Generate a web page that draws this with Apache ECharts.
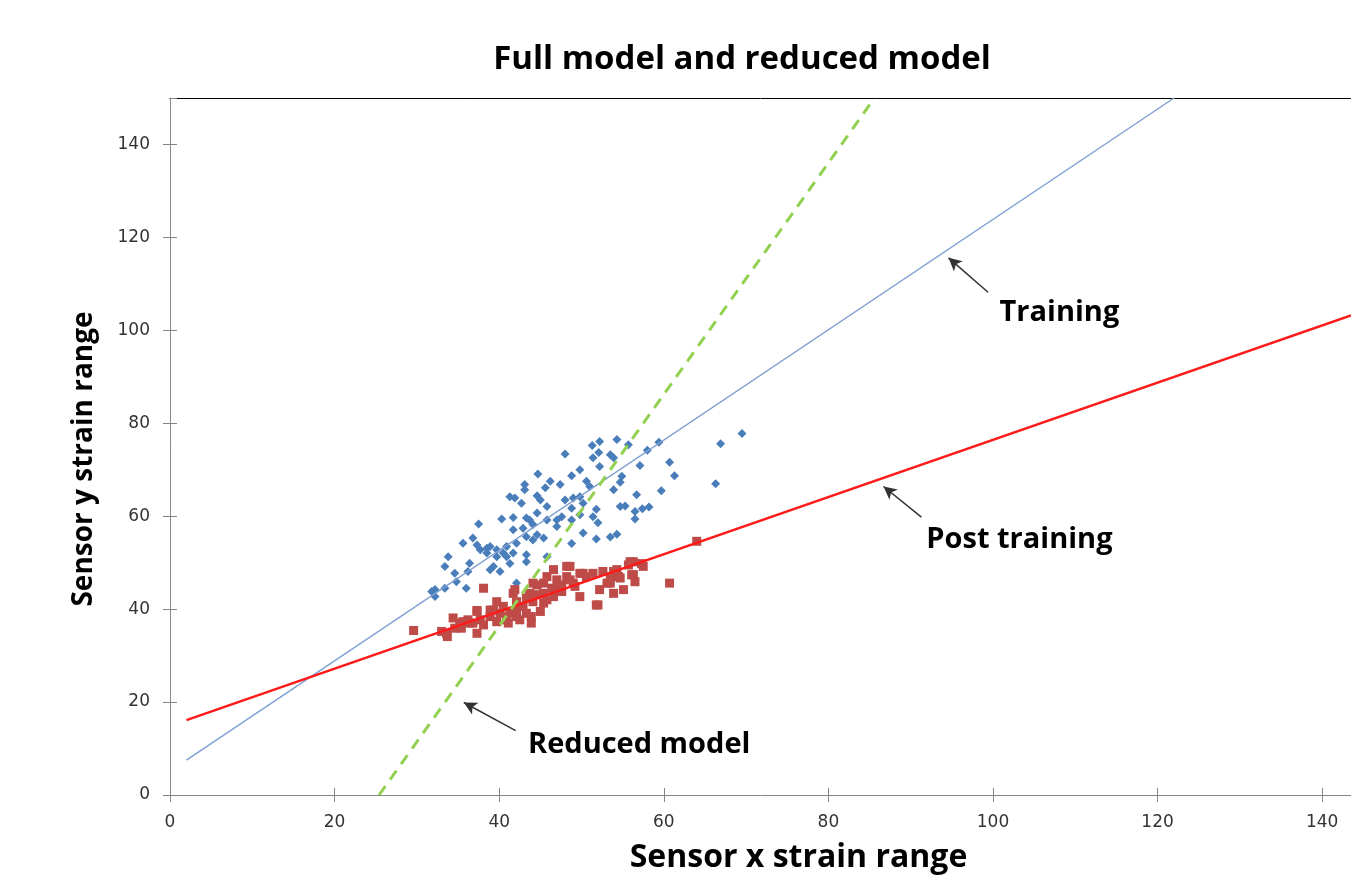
<!DOCTYPE html>
<html>
<head>
<meta charset="utf-8">
<script src="https://cdn.jsdelivr.net/npm/echarts@6/dist/echarts.min.js"></script>
<style>
html,body{margin:0;padding:0;background:#fff;}
#chart{width:1351px;height:875px;}
</style>
</head>
<body>
<div id="chart"></div>
<script>
// ---- data ----
const chartTitle = 'Full model and reduced model';
const xName = 'Sensor x strain range';
const yName = 'Sensor y strain range';

const trainingPoints = [
[69.5,77.8],[66.9,75.6],[66.3,67.0],[60.7,71.6],[61.3,68.7],[59.7,65.5],[59.4,75.9],[58.0,74.2],[57.1,70.9],[56.7,64.6],
[58.2,62.0],[57.4,61.6],[56.5,59.4],[56.5,61.0],[55.7,75.4],[54.3,76.5],[52.2,76.1],[51.3,75.2],[52.1,73.7],[53.5,73.2],
[53.9,72.6],[51.4,72.6],[52.2,70.7],[48.0,73.4],[49.8,70.0],[48.8,68.7],[54.9,68.6],[54.7,67.3],[53.9,65.7],[55.3,62.2],
[54.7,62.1],[51.8,61.5],[51.4,59.9],[52.0,58.6],[50.2,56.4],[51.8,55.1],[53.5,55.5],[54.3,56.1],[48.8,54.1],[44.7,69.1],
[46.2,67.5],[47.4,66.8],[43.1,66.8],[43.1,65.7],[45.6,66.1],[44.6,64.4],[41.3,64.2],[41.9,63.9],[42.7,62.8],[45.0,63.5],
[45.8,62.1],[48.0,63.5],[49.0,63.9],[49.8,64.2],[51.0,66.4],[50.6,67.5],[50.2,62.8],[48.8,61.7],[49.8,60.3],[48.8,59.2],
[47.6,59.9],[47.0,59.2],[47.0,57.8],[45.8,59.2],[44.6,60.7],[43.3,59.6],[43.7,59.2],[44.1,58.2],[42.9,57.4],[41.7,59.7],
[40.3,59.4],[41.7,57.1],[45.4,55.3],[44.6,56.0],[44.1,54.9],[43.3,55.6],[42.1,54.2],[40.9,53.5],[39.7,52.8],[40.5,52.1],
[38.9,53.5],[38.5,53.1],[37.5,58.3],[36.8,55.3],[35.6,54.2],[37.3,53.8],[37.7,52.8],[38.5,52.1],[39.7,51.3],[40.9,51.3],
[41.7,52.1],[43.3,51.7],[43.3,50.2],[41.3,49.8],[39.3,49.2],[38.9,48.5],[40.1,48.1],[36.4,49.9],[36.2,48.1],[34.6,47.7],
[33.8,51.3],[33.4,49.2],[34.8,45.9],[36.0,44.5],[33.4,44.5],[32.2,44.2],[31.8,43.8],[32.2,42.7],[42.1,45.6],[45.8,51.3]
];

const postTrainingPoints = [
[64.0,54.6],[60.7,45.6],[57.5,49.2],[56.3,50.2],[55.7,49.5],[56.3,47.4],[56.5,45.9],[55.1,44.2],[53.9,43.4],[53.5,45.6],
[52.2,44.2],[51.8,40.9],[49.8,42.7],[50.6,47.0],[51.4,47.7],[52.6,48.1],[53.9,48.1],[54.5,47.0],[53.5,47.0],[49.8,47.7],
[48.6,49.2],[48.2,47.0],[49.0,45.6],[47.6,45.2],[46.6,48.5],[47.0,46.3],[45.8,47.0],[45.4,45.6],[44.6,45.2],[46.4,44.5],
[47.6,43.8],[46.6,42.7],[45.4,43.4],[44.6,43.1],[43.7,43.4],[43.3,42.4],[44.1,41.6],[45.4,41.3],[45.0,39.5],[43.9,38.4],
[42.9,40.6],[42.1,41.6],[41.7,43.4],[42.1,39.8],[41.3,39.1],[40.5,40.6],[39.7,41.6],[40.1,39.1],[39.3,39.8],[38.9,38.4],
[39.7,37.3],[40.9,37.7],[42.1,38.4],[43.3,39.1],[43.9,37.0],[42.5,37.7],[38.1,44.5],[37.3,39.5],[37.7,37.7],[38.1,36.6],
[36.8,37.0],[36.2,37.7],[35.2,37.0],[35.4,35.9],[34.4,38.1],[34.6,35.9],[33.6,34.8],[33.0,35.2],[29.6,35.4],[37.3,34.8],
[41.1,37.0],[33.7,34.1],[35.6,37.3],[36.4,37.0],[37.3,39.7],[38.9,39.8],[40.9,38.4],[41.9,44.2],[44.1,45.6],[45.8,42.0],
[48.2,49.2],[47.4,44.9],[48.6,46.3],[55.9,50.2],[57.3,49.8],[56.1,47.4],[52.0,40.9],[50.2,47.7],[54.3,48.5],[54.7,46.7],
[53.1,45.6],[49.2,44.9]
];

// fitted lines (end points)
const trainingFit = [[2, 7.5], [122, 150]];
const postTrainingFit = [[2, 16.1], [143.5, 103.2]];
const reducedFit = [[25.4, 0], [85.6, 150]];

// annotations: label anchor, arrow tail, arrow head
const annotations = [
  { name: 'Training',      text: [100.8, 103.8], tail: [99.4, 108.2], head: [94.6, 115.6] },
  { name: 'Post training', text: [91.9, 54.9],   tail: [91.3, 59.8],  head: [86.7, 66.4] },
  { name: 'Reduced model', text: [43.5, 10.8],   tail: [42.0, 13.85], head: [35.7, 19.9] }
];

const xMin = 0, xMax = 143.5, xInterval = 20;
const yMin = 0, yMax = 150, yInterval = 20;

// ---- chart ----
const chart = echarts.init(document.getElementById('chart'));
const axisGrey = '#868686';
const labelStyle = { color: '#333333', fontFamily: 'DejaVu Sans', fontSize: 17 };

const option = {
  animation: false,
  backgroundColor: '#ffffff',
  title: {
    text: chartTitle,
    left: 737,
    textAlign: 'center',
    top: 38,
    textStyle: { fontFamily: 'Open Sans', fontWeight: 'bold', fontSize: 33, color: '#000' }
  },
  grid: { left: 170, right: 0, top: 98, bottom: 80, containLabel: false, outerBoundsMode: 'none' },
  xAxis: [
    {
      type: 'value', min: xMin, max: xMax, interval: xInterval, position: 'bottom',
      name: xName, nameLocation: 'middle', nameGap: 47,
      nameTextStyle: { fontFamily: 'Open Sans', fontWeight: 'bold', fontSize: 32, color: '#000', padding: [0, 0, 0, 76] },
      axisLine: { show: true, lineStyle: { color: axisGrey, width: 1 } },
      axisTick: { show: true, length: 7, lineStyle: { color: axisGrey } },
      axisLabel: Object.assign({ margin: 19, showMaxLabel: false }, labelStyle),
      splitLine: { show: false }
    },
    {
      type: 'value', min: xMin, max: xMax, interval: xInterval, position: 'bottom',
      axisLine: { show: false },
      axisTick: { show: true, inside: true, length: 7, lineStyle: { color: axisGrey } },
      axisLabel: { show: false }, splitLine: { show: false }
    },
    {
      type: 'value', min: xMin, max: xMax, position: 'top',
      axisLine: { show: true, lineStyle: { color: '#000', width: 1 } },
      axisTick: { show: false }, axisLabel: { show: false }, splitLine: { show: false }
    }
  ],
  yAxis: [
    {
      type: 'value', min: yMin, max: yMax, interval: yInterval, position: 'left',
      name: yName, nameLocation: 'middle', nameGap: 72, nameRotate: 90,
      nameTextStyle: { fontFamily: 'Open Sans', fontWeight: 'bold', fontSize: 28, color: '#000', padding: [0, 25, 0, 0] },
      axisLine: { show: true, lineStyle: { color: axisGrey, width: 1 } },
      axisTick: { show: true, length: 7, lineStyle: { color: axisGrey } },
      axisLabel: Object.assign({ margin: 20, showMaxLabel: false }, labelStyle),
      splitLine: { show: false }
    },
    {
      type: 'value', min: yMin, max: yMax, interval: yInterval, position: 'left',
      axisLine: { show: false },
      axisTick: { show: true, inside: true, length: 7, lineStyle: { color: axisGrey } },
      axisLabel: { show: false, showMaxLabel: false }, splitLine: { show: false }
    }
  ],
  series: [
    {
      name: 'Training', type: 'scatter', symbol: 'diamond', symbolSize: 9,
      itemStyle: { color: '#4a7ebb', opacity: 1 }, data: trainingPoints, z: 2
    },
    {
      name: 'Post training', type: 'scatter', symbol: 'rect', symbolSize: 9,
      itemStyle: { color: '#be4b48', opacity: 1 }, data: postTrainingPoints, z: 2
    },
    {
      name: 'Training fit', type: 'line', data: trainingFit, showSymbol: false, symbol: 'none',
      lineStyle: { color: '#7fa0d2', width: 1.5 }, z: 3
    },
    {
      name: 'Post training fit', type: 'line', data: postTrainingFit, showSymbol: false, symbol: 'none',
      lineStyle: { color: '#ff1a1a', width: 2.5 }, z: 3
    },
    {
      name: 'Reduced model', type: 'line', data: reducedFit, showSymbol: false, symbol: 'none',
      lineStyle: { color: '#92d050', width: 3, type: [11, 8] }, z: 3
    },
    {
      name: 'Annotations', type: 'scatter', symbolSize: 0, z: 5,
      itemStyle: { opacity: 1 },
      data: annotations.map(a => ({ name: a.name, value: a.text })),
      label: {
        show: true, position: 'right', distance: 0, formatter: '{b}',
        fontFamily: 'Open Sans', fontWeight: 'bold', fontSize: 29, color: '#000', opacity: 1
      },
      markLine: {
        silent: true, symbol: ['none', 'arrow'], symbolSize: [10, 13], animation: false,
        label: { show: false },
        lineStyle: { color: '#333333', width: 1.5, type: 'solid', opacity: 1 },
        data: annotations.map(a => [{ coord: a.tail }, { coord: a.head }])
      }
    }
  ]
};
chart.setOption(option);
</script>
</body>
</html>
